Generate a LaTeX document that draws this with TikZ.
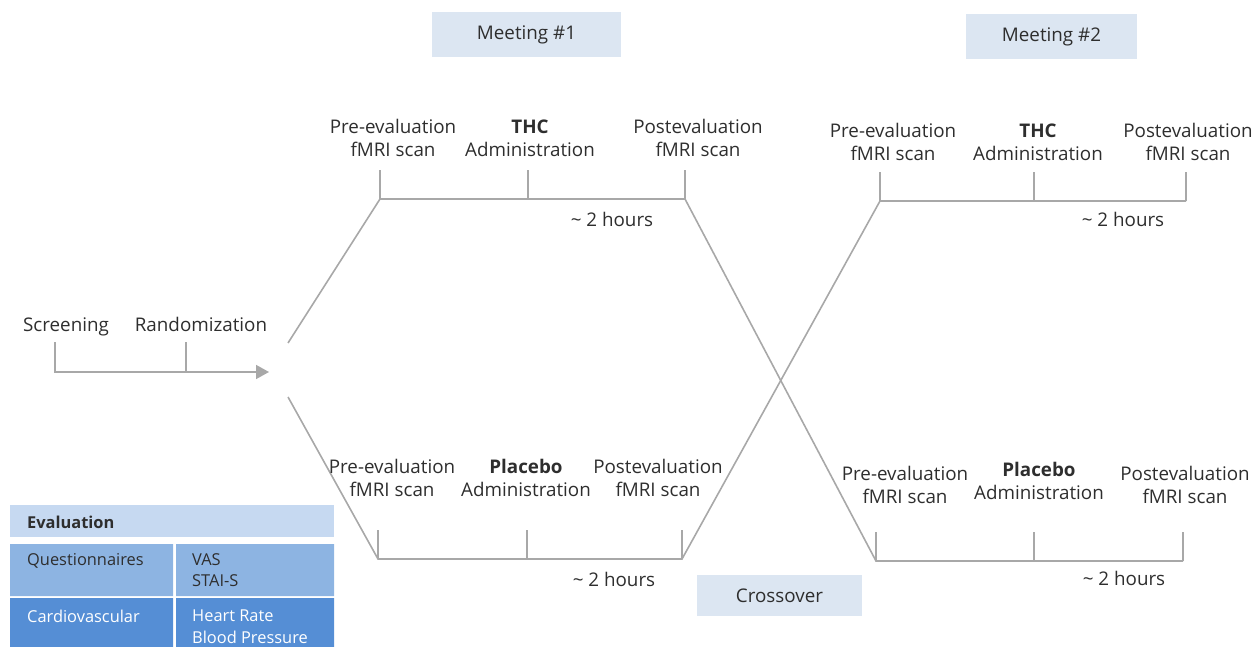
\documentclass[tikz,border=0pt]{standalone}
\usepackage{fontspec}
\setmainfont{Open Sans}
\usetikzlibrary{arrows.meta}
\definecolor{linegray}{HTML}{A8A8A8}
\definecolor{txtgray}{HTML}{2E2E2E}
\definecolor{tagblue}{HTML}{DCE6F2}
\definecolor{headblue}{HTML}{C6D9F1}
\definecolor{midblue}{HTML}{8DB4E2}
\definecolor{deepblue}{HTML}{558ED5}
\begin{document}
\begin{tikzpicture}[x=1pt,y=-1pt,
    lbl/.style={align=center,inner sep=0pt,text=txtgray,font=\fontsize{18.8}{23}\selectfont},
    tag/.style={fill=tagblue,inner sep=0pt,text=txtgray,font=\fontsize{18.8}{23}\selectfont},
    tl/.style={draw=linegray,line width=1.6pt},
    cell/.style={anchor=north west,align=left,inner sep=0pt,font=\fontsize{16.4}{21.5}\selectfont}]
    \useasboundingbox (0,0) rectangle (1256,647);

    \node[tag,minimum width=189,minimum height=45] (m1) at (526.5,34.5) {Meeting \#1};
    \node[tag,minimum width=171,minimum height=45] (m2) at (1051.5,36.5) {Meeting \#2};
    \node[tag,minimum width=165,minimum height=41] (cr) at (779.5,595.5) {Crossover};

    \node[lbl,anchor=base] (scr) at (66,331) {Screening};
    \node[lbl,anchor=base] (rnd) at (201,331) {Randomization};
    \coordinate (s0) at (55,372); \coordinate (s1) at (186,372); \coordinate (s2) at (269,372);
    \coordinate (s0t) at (55,342); \coordinate (s1t) at (186,342);
    \draw[tl,-{Triangle[length=13pt,width=14pt]}] (s0t) -- (s0) -- (s2);
    \draw[tl] (s1t) -- (s1);

    \coordinate (fu) at (288,343); \coordinate (fd) at (288,397);
    \coordinate (t1a) at (380,199); \coordinate (t1b) at (528,199); \coordinate (t1c) at (685,199);
    \coordinate (b1a) at (378,559); \coordinate (b1b) at (527,559); \coordinate (b1c) at (682,559);
    \coordinate (t2a) at (880,201); \coordinate (t2b) at (1034,201); \coordinate (t2c) at (1186,201);
    \coordinate (b2a) at (876,561); \coordinate (b2b) at (1034,561); \coordinate (b2c) at (1183,561);
    \draw[tl] (fu) -- (t1a) -- (t1c) -- (b2a) -- (b2c);
    \draw[tl] (fd) -- (b1a) -- (b1c) -- (t2a) -- (t2c);
    \foreach \c in {t1a,t1b,t1c,t2a,t2b,t2c,b1a,b1b,b1c,b2a,b2b,b2c}
        \draw[tl] (\c) -- ++(0,-29);

    \node[lbl] (pre1) at (393,138) {Pre-evaluation\\fMRI scan};
    \node[lbl] (thc1) at (530,138) {\textbf{THC}\\Administration};
    \node[lbl] (post1) at (698,138) {Postevaluation\\fMRI scan};
    \node[lbl,anchor=base] (hrs1) at (612,227) {\textasciitilde{} 2 hours};
    \node[lbl] (pre2) at (893,142) {Pre-evaluation\\fMRI scan};
    \node[lbl] (thc2) at (1038,142) {\textbf{THC}\\Administration};
    \node[lbl] (post2) at (1188,142) {Postevaluation\\fMRI scan};
    \node[lbl,anchor=base] (hrs2) at (1123,227) {\textasciitilde{} 2 hours};
    \node[lbl] (pre3) at (392,478) {Pre-evaluation\\fMRI scan};
    \node[lbl] (plc1) at (526,478) {\textbf{Placebo}\\Administration};
    \node[lbl] (post3) at (658,478) {Postevaluation\\fMRI scan};
    \node[lbl,anchor=base] (hrs3) at (614,586) {\textasciitilde{} 2 hours};
    \node[lbl] (pre4) at (905,485) {Pre-evaluation\\fMRI scan};
    \node[lbl] (plc2) at (1039,481) {\textbf{Placebo}\\Administration};
    \node[lbl] (post4) at (1185,485) {Postevaluation\\fMRI scan};
    \node[lbl,anchor=base] (hrs4) at (1124,585) {\textasciitilde{} 2 hours};

    \fill[headblue] (10,505) rectangle (334,537);
    \fill[midblue] (10,544) rectangle (173,596) (176,544) rectangle (334,596);
    \fill[deepblue] (10,598) rectangle (173,647) (176,598) rectangle (334,647);
    \node[cell,text=txtgray,font=\fontsize{16.4}{21.5}\selectfont\bfseries] (ev) at (27,516) {Evaluation};
    \node[cell,text=txtgray] (qu) at (27,553) {Questionnaires};
    \node[cell,text=txtgray] (vas) at (192,553) {VAS\\STAI-S};
    \node[cell,text=white] (cv) at (27,610) {Cardiovascular};
    \node[cell,text=white] (hr) at (192,610) {Heart Rate\\Blood Pressure};
\end{tikzpicture}
\end{document}
